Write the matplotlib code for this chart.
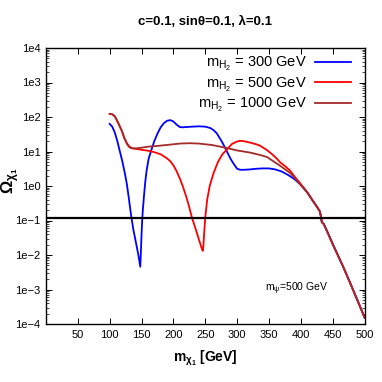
import numpy as np
import matplotlib
matplotlib.use("Agg")
import matplotlib.pyplot as plt
from matplotlib.ticker import LogLocator, FixedLocator, NullFormatter

plt.rcParams['font.family'] = ['Liberation Sans', 'DejaVu Sans']
plt.rcParams['mathtext.default'] = 'regular'
fs_title, fs_leg, fs_xlab, fs_ylab, fs_tick, fs_ann = 9.5, 10.5, 10, 12, 8, 7.5

# ---- data (log10 of relic density) ----
x_blue = [100, 104, 108, 112, 116, 120, 124, 127, 130, 133.6, 137, 141, 145, 148,
          149, 150, 151, 152, 154, 156, 158, 161, 165, 170, 175, 180, 185, 190, 195,
          200, 205, 210, 215, 220, 230, 240, 250, 258, 263, 268, 275, 280, 284, 290,
          294, 300, 305, 310, 320, 330, 340, 350, 360, 370, 380, 390, 399, 410, 420,
          426, 430, 432, 433, 436, 440, 450, 460, 467, 480, 490, 500]
logy_blue = [1.80, 1.72, 1.55, 1.30, 1.00, 0.70, 0.35, 0.05, -0.35, -0.85, -1.25, -1.62, -2.00, -2.34,
             -1.90, -1.40, -1.00, -0.70, -0.25, 0.15, 0.45, 0.78, 1.02, 1.30, 1.52, 1.70, 1.82, 1.89, 1.91,
             1.87, 1.78, 1.71, 1.70, 1.71, 1.72, 1.73, 1.72, 1.68, 1.62, 1.53, 1.32, 1.15, 1.00, 0.78,
             0.66, 0.50, 0.47, 0.47, 0.48, 0.50, 0.51, 0.51, 0.48, 0.42, 0.32, 0.20, 0.05, -0.18, -0.46,
             -0.62, -0.74, -0.92, -1.05, -1.10, -1.26, -1.68, -2.08, -2.36, -2.92, -3.36, -3.81]

x_red = [100, 104, 108, 112, 116, 119, 123, 127, 131, 135, 140, 150, 161, 170, 180,
         190, 195, 200, 205, 210, 215, 220, 225, 229, 235, 240, 244, 246, 247, 248, 250, 253,
         257, 263, 270, 277, 284, 292, 300, 305, 310, 320, 330, 336, 347, 355, 362,
         368, 375, 383, 390, 399, 410, 420, 426, 430, 432, 433, 436, 440, 450, 460,
         467, 480, 490, 500]
logy_red = [2.09, 2.08, 2.02, 1.88, 1.72, 1.60, 1.40, 1.24, 1.14, 1.10, 1.08, 1.05, 1.02, 0.98, 0.92,
            0.80, 0.72, 0.60, 0.43, 0.22, -0.02, -0.30, -0.62, -0.91, -1.25, -1.55, -1.78, -1.88, -1.75,
            -1.45, -0.91, -0.40,
            0.00, 0.37, 0.70, 0.92, 1.06, 1.22, 1.29, 1.31, 1.30, 1.26, 1.21, 1.17, 1.04, 0.92, 0.80,
            0.68, 0.58, 0.45, 0.28, 0.08, -0.18, -0.46, -0.62, -0.74, -0.92, -1.05, -1.10, -1.26, -1.68, -2.08,
            -2.36, -2.92, -3.36, -3.81]

x_brown = [100, 104, 108, 112, 116, 119, 123, 127, 131, 135, 140, 150, 160, 174, 190,
           210, 226, 240, 260, 279, 284, 300, 320, 336, 347, 368, 383, 389, 399, 410,
           420, 426, 430, 432, 433, 436, 440, 450, 460, 467, 480, 490, 500]
logy_brown = [2.09, 2.08, 2.02, 1.88, 1.72, 1.60, 1.38, 1.22, 1.12, 1.09, 1.09, 1.11, 1.14, 1.16, 1.19,
              1.23, 1.24, 1.23, 1.19, 1.12, 1.10, 1.03, 0.97, 0.90, 0.84, 0.58, 0.38, 0.27, 0.05, -0.18,
              -0.46, -0.62, -0.74, -0.92, -1.05, -1.10, -1.26, -1.68, -2.08, -2.36, -2.92, -3.36, -3.81]

labels = [r'$m_{H_2}$ = 300 GeV', r'$m_{H_2}$ = 500 GeV', r'$m_{H_2}$ = 1000 GeV']
colors = ['#0000ff', '#ff0000', '#a52a2a']
omega_planck = 0.12
x_ticks = [50, 100, 150, 200, 250, 300, 350, 400, 450, 500]
y_ticks = [1e-4, 1e-3, 1e-2, 1e-1, 1e0, 1e1, 1e2, 1e3, 1e4]
y_ticklabels = ['1e\u22124', '1e\u22123', '1e\u22122', '1e\u22121', '1e0', '1e1', '1e2', '1e3', '1e4']

fig = plt.figure(figsize=(3.82, 3.82), dpi=100)
ax = fig.add_axes([46/382, 1-324/382, (364.5-46)/382, (324-48)/382])

series = [(x_blue, logy_blue), (x_red, logy_red), (x_brown, logy_brown)]
for (xs, ly), c, lab in zip(series, colors, labels):
    ax.plot(xs, 10**np.array(ly), color=c, lw=1.3, label=lab, solid_joinstyle='round')

ax.axhline(omega_planck, color='black', lw=1.6)

ax.set_yscale('log')
ax.set_xlim(0, 500)
ax.set_ylim(1e-4, 1e4)
ax.xaxis.set_major_locator(FixedLocator(x_ticks))
ax.set_xticklabels([str(t) for t in x_ticks])
ax.yaxis.set_major_locator(FixedLocator(y_ticks))
ax.set_yticklabels(y_ticklabels)
ax.yaxis.set_minor_locator(LogLocator(base=10, subs=np.arange(2, 10), numticks=20))
ax.yaxis.set_minor_formatter(NullFormatter())
ax.tick_params(which='both', direction='in', top=True, right=True, labelsize=fs_tick, pad=4)
ax.tick_params(which='major', length=4, width=0.7)
ax.tick_params(which='minor', length=2, width=0.5)
for s in ax.spines.values():
    s.set_linewidth(1.0)

ax.set_xlabel(r'$m_{\chi_1}$ [GeV]', fontsize=fs_xlab, fontweight='bold')
ax.xaxis.set_label_coords(0.5, -0.088)
ax.set_ylabel(r'$\Omega_{\chi_1}$', fontsize=fs_ylab, fontweight='bold')
ax.yaxis.set_label_coords(-0.076, 0.518)
fig.text(205/382, 1-22/382, 'c=0.1, sin\u03b8=0.1, \u03bb=0.1', ha='center', va='center',
         fontsize=fs_title, fontweight='bold')
ax.text(0.786, 0.127, r'$m_{\psi}$=500 GeV', transform=ax.transAxes, fontsize=fs_ann,
        ha='center', va='center')

ax.legend(loc='upper right', frameon=False, markerfirst=False, fontsize=fs_leg,
          handlelength=2.45, handletextpad=0.55, labelspacing=0.15,
          borderaxespad=0.0, bbox_to_anchor=(0.975, 0.995))

fig.savefig('out.png', dpi=100)
